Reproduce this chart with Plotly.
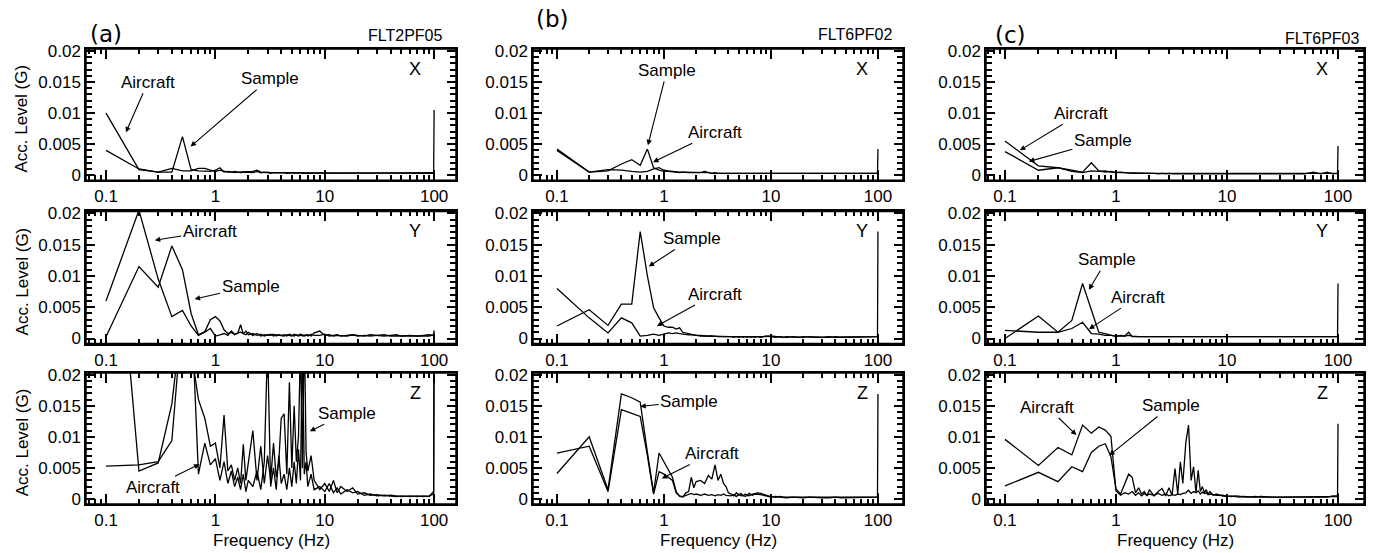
import numpy as np
import plotly.graph_objects as go

# ---------------- data ----------------
freq = [0.1, 0.2, 0.3, 0.4, 0.5, 0.6, 0.7, 0.8, 0.9, 1.0,
        1.1, 1.2, 1.3, 1.4, 1.5, 1.6, 1.7, 1.8, 1.9, 2.0,
        2.2, 2.4, 2.6, 2.8, 3.0, 3.2, 3.4, 3.6, 3.8, 4.0,
        4.25, 4.5, 4.75, 5.0, 5.25, 5.5, 5.75, 6.0, 6.25, 6.5, 6.75, 7.0, 7.5, 8.0,
        9, 10, 11, 12, 13, 14, 16, 18, 20, 23, 26, 30, 35, 40, 45, 50, 60, 70, 80, 90, 99, 100]

# (a) FLT2PF05
aX_aircraft = [0.0100, 0.0009, 0.0005, 0.0011, 0.0007, 0.0007, 0.0011, 0.0011, 0.0008, 0.0006,
               0.0008, 0.0006, 0.0005, 0.0005, 0.0006, 0.0005, 0.0005, 0.0006, 0.0005, 0.0005,
               0.0006, 0.0008, 0.0005, 0.0004, 0.0005, 0.0004, 0.0004, 0.0005, 0.0004, 0.0004,
               0.0004, 0.0003, 0.0004, 0.0004, 0.0003, 0.0004, 0.0003, 0.0004, 0.0003, 0.0003, 0.0004, 0.0003, 0.0003, 0.0004,
               0.0003, 0.0004, 0.0003, 0.0003, 0.0004, 0.0003, 0.0003, 0.0004, 0.0003, 0.0003, 0.0003, 0.0004, 0.0003, 0.0003,
               0.0003, 0.0004, 0.0003, 0.0003, 0.0003, 0.0004, 0.0004, 0.0004]
aX_sample = [0.0040, 0.0010, 0.0005, 0.0005, 0.0062, 0.0009, 0.0007, 0.0007, 0.0006, 0.0008,
             0.0012, 0.0005, 0.0006, 0.0005, 0.0004, 0.0005, 0.0004, 0.0005, 0.0005, 0.0004,
             0.0004, 0.0006, 0.0004, 0.0005, 0.0004, 0.0003, 0.0004, 0.0004, 0.0003, 0.0004,
             0.0003, 0.0004, 0.0003, 0.0003, 0.0004, 0.0003, 0.0003, 0.0003, 0.0004, 0.0003, 0.0003, 0.0003, 0.0004, 0.0003,
             0.0003, 0.0003, 0.0004, 0.0003, 0.0003, 0.0003, 0.0004, 0.0003, 0.0003, 0.0003, 0.0004, 0.0003, 0.0003, 0.0004,
             0.0003, 0.0003, 0.0003, 0.0004, 0.0003, 0.0003, 0.0003, 0.0105]
aY_aircraft = [0.0060, 0.0205, 0.0095, 0.0035, 0.0045, 0.0020, 0.0005, 0.0010, 0.0016, 0.0004,
               0.0006, 0.0008, 0.0005, 0.0012, 0.0007, 0.0008, 0.0022, 0.0007, 0.0012, 0.0006,
               0.0008, 0.0005, 0.0007, 0.0004, 0.0006, 0.0005, 0.0007, 0.0004, 0.0006, 0.0005,
               0.0006, 0.0004, 0.0007, 0.0005, 0.0004, 0.0006, 0.0005, 0.0007, 0.0004, 0.0005, 0.0006, 0.0004, 0.0007, 0.0005,
               0.0005, 0.0007, 0.0004, 0.0005, 0.0006, 0.0004, 0.0005, 0.0006, 0.0005, 0.0004, 0.0006, 0.0005, 0.0004, 0.0005,
               0.0006, 0.0004, 0.0005, 0.0004, 0.0005, 0.0006, 0.0005, 0.0013]
aY_sample = [0.0003, 0.0115, 0.0082, 0.0148, 0.0110, 0.0040, 0.0006, 0.0011, 0.0030, 0.0035,
             0.0028, 0.0014, 0.0008, 0.0010, 0.0006, 0.0009, 0.0010, 0.0008, 0.0006, 0.0010,
             0.0005, 0.0008, 0.0004, 0.0006, 0.0005, 0.0007, 0.0004, 0.0006, 0.0005, 0.0004,
             0.0004, 0.0006, 0.0005, 0.0004, 0.0007, 0.0005, 0.0004, 0.0005, 0.0006, 0.0004, 0.0005, 0.0006, 0.0004, 0.0009,
             0.0012, 0.0005, 0.0006, 0.0004, 0.0005, 0.0005, 0.0004, 0.0006, 0.0004, 0.0005, 0.0004, 0.0005, 0.0006, 0.0004,
             0.0004, 0.0005, 0.0004, 0.0005, 0.0004, 0.0004, 0.0006, 0.0010]
aZ_aircraft = [0.0650, 0.0045, 0.0058, 0.0153, 0.0300, 0.0320, 0.0040, 0.0090, 0.0055, 0.0065,
               0.0030, 0.0060, 0.0025, 0.0045, 0.0020, 0.0035, 0.0015, 0.0040, 0.0012, 0.0030,
               0.0020, 0.0045, 0.0015, 0.0060, 0.0250, 0.0020, 0.0050, 0.0015, 0.0070, 0.0025,
               0.0040, 0.0015, 0.0050, 0.0020, 0.0060, 0.0025, 0.0080, 0.0030, 0.0250, 0.0040, 0.0060, 0.0020, 0.0040, 0.0015,
               0.0020, 0.0012, 0.0025, 0.0010, 0.0018, 0.0008, 0.0015, 0.0010, 0.0012, 0.0006, 0.0008, 0.0005, 0.0006, 0.0005,
               0.0004, 0.0005, 0.0004, 0.0005, 0.0004, 0.0005, 0.0008, 0.0300]
aZ_sample = [0.0053, 0.0055, 0.0060, 0.0094, 0.0300, 0.0240, 0.0160, 0.0130, 0.0085, 0.0090,
             0.0050, 0.0135, 0.0045, 0.0055, 0.0030, 0.0050, 0.0025, 0.0088, 0.0030, 0.0060,
             0.0110, 0.0030, 0.0085, 0.0025, 0.0070, 0.0030, 0.0090, 0.0035, 0.0060, 0.0130,
             0.0137, 0.0040, 0.0188, 0.0050, 0.0150, 0.0060, 0.0100, 0.0250, 0.0050, 0.0280, 0.0075, 0.0045, 0.0070, 0.0030,
             0.0015, 0.0025, 0.0012, 0.0030, 0.0010, 0.0020, 0.0012, 0.0018, 0.0008, 0.0010, 0.0006, 0.0007, 0.0005, 0.0006,
             0.0005, 0.0004, 0.0005, 0.0004, 0.0005, 0.0004, 0.0012, 0.0300]

# (b) FLT6PF02
bX_aircraft = [0.0042, 0.0005, 0.0009, 0.0008, 0.0006, 0.0005, 0.0006, 0.0010, 0.0012, 0.0008,
               0.0007, 0.0006, 0.0006, 0.0005, 0.0005, 0.0005, 0.0004, 0.0005, 0.0004, 0.0004,
               0.0005, 0.0004, 0.0004, 0.0003, 0.0004, 0.0003, 0.0003, 0.0003, 0.0003, 0.0003,
               0.0003, 0.0002, 0.0003, 0.0002, 0.0003, 0.0002, 0.0003, 0.0002, 0.0003, 0.0002, 0.0003, 0.0002, 0.0003, 0.0002,
               0.0002, 0.0003, 0.0002, 0.0002, 0.0003, 0.0002, 0.0002, 0.0003, 0.0002, 0.0002, 0.0002, 0.0003, 0.0002, 0.0002,
               0.0002, 0.0003, 0.0002, 0.0002, 0.0002, 0.0003, 0.0003, 0.0004]
bX_sample = [0.0040, 0.0005, 0.0007, 0.0018, 0.0025, 0.0016, 0.0042, 0.0012, 0.0008, 0.0006,
             0.0006, 0.0005, 0.0005, 0.0004, 0.0005, 0.0004, 0.0004, 0.0004, 0.0004, 0.0004,
             0.0004, 0.0006, 0.0004, 0.0003, 0.0003, 0.0003, 0.0003, 0.0003, 0.0003, 0.0003,
             0.0002, 0.0003, 0.0002, 0.0003, 0.0002, 0.0003, 0.0002, 0.0003, 0.0002, 0.0003, 0.0002, 0.0003, 0.0002, 0.0003,
             0.0003, 0.0002, 0.0002, 0.0003, 0.0002, 0.0002, 0.0003, 0.0002, 0.0002, 0.0002, 0.0003, 0.0002, 0.0002, 0.0002,
             0.0003, 0.0002, 0.0002, 0.0002, 0.0003, 0.0002, 0.0003, 0.0042]
bY_aircraft = [0.0080, 0.0033, 0.0009, 0.0033, 0.0025, 0.0004, 0.0005, 0.0007, 0.0005, 0.0007,
               0.0009, 0.0008, 0.0009, 0.0008, 0.0007, 0.0007, 0.0006, 0.0006, 0.0005, 0.0005,
               0.0004, 0.0004, 0.0004, 0.0003, 0.0003, 0.0003, 0.0003, 0.0003, 0.0003, 0.0003,
               0.0003, 0.0002, 0.0003, 0.0002, 0.0003, 0.0002, 0.0003, 0.0002, 0.0003, 0.0002, 0.0003, 0.0002, 0.0003, 0.0002,
               0.0004, 0.0003, 0.0002, 0.0003, 0.0002, 0.0002, 0.0003, 0.0002, 0.0002, 0.0003, 0.0002, 0.0002, 0.0002, 0.0003,
               0.0002, 0.0002, 0.0003, 0.0002, 0.0002, 0.0002, 0.0003, 0.0004]
bY_sample = [0.0020, 0.0046, 0.0021, 0.0055, 0.0055, 0.0171, 0.0100, 0.0049, 0.0033, 0.0020,
             0.0018, 0.0018, 0.0015, 0.0017, 0.0010, 0.0009, 0.0007, 0.0006, 0.0006, 0.0005,
             0.0005, 0.0004, 0.0004, 0.0004, 0.0003, 0.0003, 0.0003, 0.0003, 0.0003, 0.0003,
             0.0002, 0.0003, 0.0002, 0.0003, 0.0002, 0.0003, 0.0002, 0.0003, 0.0002, 0.0003, 0.0002, 0.0003, 0.0002, 0.0003,
             0.0003, 0.0004, 0.0003, 0.0002, 0.0002, 0.0003, 0.0002, 0.0002, 0.0003, 0.0002, 0.0002, 0.0002, 0.0003, 0.0002,
             0.0002, 0.0003, 0.0002, 0.0002, 0.0002, 0.0003, 0.0003, 0.0171]
bZ_aircraft = [0.0074, 0.0085, 0.0012, 0.0144, 0.0138, 0.0133, 0.0070, 0.0008, 0.0044, 0.0040,
               0.0035, 0.0030, 0.0010, 0.0005, 0.0004, 0.0006, 0.0008, 0.0009, 0.0007, 0.0008,
               0.0006, 0.0008, 0.0006, 0.0007, 0.0005, 0.0007, 0.0006, 0.0008, 0.0006, 0.0005,
               0.0005, 0.0007, 0.0004, 0.0008, 0.0005, 0.0006, 0.0004, 0.0006, 0.0005, 0.0007, 0.0006, 0.0008, 0.0008, 0.0007,
               0.0005, 0.0003, 0.0004, 0.0003, 0.0003, 0.0002, 0.0003, 0.0002, 0.0002, 0.0003, 0.0002, 0.0002, 0.0002, 0.0003,
               0.0002, 0.0002, 0.0003, 0.0002, 0.0002, 0.0003, 0.0003, 0.0010]
bZ_sample = [0.0041, 0.0100, 0.0015, 0.0169, 0.0163, 0.0156, 0.0075, 0.0010, 0.0074, 0.0060,
             0.0045, 0.0035, 0.0012, 0.0004, 0.0003, 0.0010, 0.0012, 0.0035, 0.0018, 0.0028,
             0.0030, 0.0025, 0.0038, 0.0032, 0.0055, 0.0030, 0.0040, 0.0025, 0.0020, 0.0010,
             0.0008, 0.0005, 0.0010, 0.0006, 0.0009, 0.0005, 0.0008, 0.0006, 0.0009, 0.0007, 0.0008, 0.0009, 0.0010, 0.0009,
             0.0006, 0.0004, 0.0003, 0.0004, 0.0003, 0.0003, 0.0003, 0.0003, 0.0003, 0.0002, 0.0003, 0.0002, 0.0003, 0.0002,
             0.0003, 0.0002, 0.0002, 0.0003, 0.0002, 0.0002, 0.0003, 0.0169]

# (c) FLT6PF03
cX_aircraft = [0.0055, 0.0015, 0.0012, 0.0008, 0.0005, 0.0020, 0.0007, 0.0005, 0.0006, 0.0004,
               0.0005, 0.0004, 0.0004, 0.0003, 0.0004, 0.0003, 0.0003, 0.0003, 0.0003, 0.0003,
               0.0003, 0.0002, 0.0003, 0.0002, 0.0003, 0.0002, 0.0002, 0.0002, 0.0002, 0.0002,
               0.0002, 0.0002, 0.0002, 0.0002, 0.0002, 0.0002, 0.0002, 0.0002, 0.0002, 0.0002, 0.0002, 0.0002, 0.0002, 0.0002,
               0.0002, 0.0002, 0.0002, 0.0002, 0.0002, 0.0002, 0.0002, 0.0002, 0.0002, 0.0002, 0.0002, 0.0002, 0.0002, 0.0002,
               0.0002, 0.0002, 0.0005, 0.0002, 0.0005, 0.0002, 0.0003, 0.0004]
cX_sample = [0.0038, 0.0008, 0.0012, 0.0006, 0.0004, 0.0007, 0.0006, 0.0007, 0.0005, 0.0004,
             0.0004, 0.0004, 0.0003, 0.0003, 0.0003, 0.0003, 0.0003, 0.0002, 0.0003, 0.0002,
             0.0002, 0.0002, 0.0002, 0.0002, 0.0002, 0.0002, 0.0002, 0.0002, 0.0002, 0.0002,
             0.0002, 0.0002, 0.0002, 0.0002, 0.0002, 0.0002, 0.0002, 0.0002, 0.0002, 0.0002, 0.0002, 0.0002, 0.0002, 0.0002,
             0.0002, 0.0002, 0.0002, 0.0002, 0.0002, 0.0002, 0.0002, 0.0002, 0.0002, 0.0002, 0.0002, 0.0002, 0.0002, 0.0002,
             0.0002, 0.0002, 0.0002, 0.0002, 0.0002, 0.0002, 0.0003, 0.0047]
cY_aircraft = [0.0013, 0.0010, 0.0010, 0.0016, 0.0026, 0.0008, 0.0007, 0.0005, 0.0005, 0.0004,
               0.0004, 0.0004, 0.0005, 0.0004, 0.0003, 0.0003, 0.0003, 0.0003, 0.0002, 0.0002,
               0.0003, 0.0002, 0.0002, 0.0002, 0.0002, 0.0002, 0.0002, 0.0002, 0.0002, 0.0002,
               0.0002, 0.0002, 0.0002, 0.0002, 0.0002, 0.0002, 0.0002, 0.0002, 0.0002, 0.0002, 0.0002, 0.0002, 0.0002, 0.0002,
               0.0002, 0.0002, 0.0002, 0.0002, 0.0002, 0.0002, 0.0002, 0.0002, 0.0002, 0.0002, 0.0002, 0.0002, 0.0002, 0.0002,
               0.0002, 0.0002, 0.0002, 0.0002, 0.0002, 0.0002, 0.0003, 0.0004]
cY_sample = [0.0000, 0.0036, 0.0010, 0.0029, 0.0088, 0.0044, 0.0010, 0.0008, 0.0006, 0.0003,
             0.0005, 0.0004, 0.0010, 0.0003, 0.0003, 0.0003, 0.0002, 0.0003, 0.0002, 0.0002,
             0.0002, 0.0002, 0.0003, 0.0002, 0.0002, 0.0002, 0.0002, 0.0002, 0.0002, 0.0002,
             0.0002, 0.0002, 0.0002, 0.0002, 0.0002, 0.0002, 0.0002, 0.0002, 0.0002, 0.0002, 0.0002, 0.0002, 0.0002, 0.0002,
             0.0002, 0.0002, 0.0002, 0.0002, 0.0002, 0.0002, 0.0002, 0.0002, 0.0002, 0.0002, 0.0002, 0.0002, 0.0002, 0.0002,
             0.0002, 0.0002, 0.0002, 0.0002, 0.0002, 0.0002, 0.0003, 0.0088]
cZ_aircraft = [0.0096, 0.0054, 0.0083, 0.0071, 0.0119, 0.0106, 0.0116, 0.0111, 0.0101, 0.0013,
               0.0006, 0.0010, 0.0008, 0.0012, 0.0006, 0.0010, 0.0005, 0.0009, 0.0006, 0.0008,
               0.0006, 0.0009, 0.0006, 0.0008, 0.0005, 0.0007, 0.0006, 0.0008, 0.0007, 0.0009,
               0.0010, 0.0014, 0.0009, 0.0012, 0.0010, 0.0013, 0.0008, 0.0011, 0.0009, 0.0010, 0.0007, 0.0008, 0.0007, 0.0006,
               0.0006, 0.0005, 0.0004, 0.0005, 0.0004, 0.0004, 0.0003, 0.0004, 0.0003, 0.0003, 0.0003, 0.0003, 0.0003, 0.0003,
               0.0003, 0.0003, 0.0003, 0.0003, 0.0003, 0.0005, 0.0005, 0.0010]
cZ_sample = [0.0021, 0.0043, 0.0028, 0.0052, 0.0044, 0.0075, 0.0085, 0.0089, 0.0068, 0.0016,
             0.0008, 0.0025, 0.0040, 0.0035, 0.0010, 0.0018, 0.0008, 0.0012, 0.0005, 0.0015,
             0.0005, 0.0012, 0.0017, 0.0005, 0.0018, 0.0006, 0.0049, 0.0008, 0.0060, 0.0025,
             0.0090, 0.0119, 0.0030, 0.0052, 0.0010, 0.0046, 0.0012, 0.0020, 0.0010, 0.0015, 0.0008, 0.0012, 0.0006, 0.0008,
             0.0005, 0.0004, 0.0005, 0.0004, 0.0003, 0.0004, 0.0003, 0.0003, 0.0004, 0.0003, 0.0003, 0.0003, 0.0003, 0.0004,
             0.0003, 0.0003, 0.0003, 0.0003, 0.0003, 0.0004, 0.0004, 0.0121]

panels = [
    (aX_aircraft, aX_sample), (bX_aircraft, bX_sample), (cX_aircraft, cX_sample),
    (aY_aircraft, aY_sample), (bY_aircraft, bY_sample), (cY_aircraft, cY_sample),
    (aZ_aircraft, aZ_sample), (bZ_aircraft, bZ_sample), (cZ_aircraft, cZ_sample),
]
axis_names = ["X", "Y", "Z"]
column_letters = ["(a)", "(b)", "(c)"]
flight_ids = ["FLT2PF05", "FLT6PF02", "FLT6PF03"]

# callouts: (panel index, text, arrow-head freq, arrow-head level, text dx px, text dy px)
callouts = [
    (0, "Aircraft", 0.152, 0.0069, 22, -50), (0, "Sample", 0.593, 0.0046, 79, -68),
    (1, "Sample", 0.708, 0.0048, 19, -75), (1, "Aircraft", 0.79, 0.0021, 62, -30),
    (2, "Aircraft", 0.136, 0.0040, 61, -37), (2, "Sample", 0.164, 0.0022, 74, -21),
    (3, "Aircraft", 0.279, 0.0157, 55, -9), (3, "Sample", 0.645, 0.0063, 56, -13),
    (4, "Sample", 0.72, 0.0115, 43, -28), (4, "Aircraft", 0.86, 0.0020, 58, -32),
    (5, "Sample", 0.57, 0.0078, 18, -30), (5, "Aircraft", 0.57, 0.0015, 49, -32),
    (6, "Sample", 7.3, 0.0109, 37, -18), (6, "Aircraft", 0.716, 0.0056, -47, 23),
    (7, "Sample", 0.60, 0.0149, 49, -5), (7, "Aircraft", 0.955, 0.0033, 50, -25),
    (8, "Aircraft", 0.44, 0.0103, -29, -28), (8, "Sample", 0.867, 0.0070, 62, -50),
]

# ---------------- layout geometry ----------------
W, H = 1376, 553
col_px = [(86, 456), (533, 903), (986, 1364)]
row_px = [(43, 177), (209, 344), (374, 508)]
xranges = [(-1.183, 2.20), (-1.224, 2.234), (-1.171, 2.234)]
yrange = (-0.0008, 0.0203)
FONT = "Liberation Sans, Arial, sans-serif"

fig = go.Figure()
annotations = []
shapes = []

for k, (air, smp) in enumerate(panels):
    r, c = divmod(k, 3)
    idx = "" if k == 0 else str(k + 1)
    for series in (air, smp):
        fig.add_trace(go.Scatter(x=freq, y=series, mode="lines",
                                 line=dict(color="black", width=1.3),
                                 xaxis="x" + idx, yaxis="y" + idx,
                                 showlegend=False, hoverinfo="skip"))
    x0, x1 = col_px[c]
    y0, y1 = row_px[r]
    fig.layout["xaxis" + idx] = dict(
        type="log", range=list(xranges[c]), domain=[x0 / W, x1 / W],
        anchor="y" + idx, tickmode="array", tickvals=[0.1, 1, 10, 100],
        ticktext=["0.1", "1", "10", "100"], ticks="inside", ticklen=10,
        tickwidth=2, tickcolor="black", showline=True, linecolor="black",
        linewidth=1.5, mirror="allticks", showgrid=False, zeroline=False,
        layer="above traces",
        tickfont=dict(family=FONT, size=17, color="black"),
        minor=dict(dtick="D1", ticks="inside", ticklen=5,
                   tickwidth=1.5, tickcolor="black", showgrid=False),
    )
    fig.layout["yaxis" + idx] = dict(
        range=list(yrange), domain=[1 - y1 / H, 1 - y0 / H], anchor="x" + idx,
        tickmode="array", tickvals=[0, 0.005, 0.01, 0.015, 0.02],
        ticktext=["0", "0.005", "0.01", "0.015", "0.02"], ticks="inside",
        ticklen=9, tickwidth=2, tickcolor="black", showline=True,
        linecolor="black", linewidth=1.5, mirror="allticks", showgrid=False,
        zeroline=False, layer="above traces",
        tickfont=dict(family=FONT, size=17, color="black"),
        minor=dict(dtick=0.001, tick0=0, ticks="inside", ticklen=6,
                   tickwidth=1.5, tickcolor="black", showgrid=False),
    )
    shapes.append(dict(type="rect", xref="x" + idx + " domain", yref="y" + idx + " domain",
                       x0=0, x1=1, y0=0, y1=1, line=dict(color="black", width=1.5),
                       fillcolor="rgba(0,0,0,0)", layer="above"))
    # component label X / Y / Z
    annotations.append(dict(text=axis_names[r], xref="x" + idx + " domain",
                            yref="y" + idx + " domain", x=0.89, y=0.85,
                            xanchor="center", yanchor="middle",
                            showarrow=False, font=dict(family=FONT, size=18, color="black")))

for (k, text, fx, lv, dx, dy) in callouts:
    idx = "" if k == 0 else str(k + 1)
    annotations.append(dict(text=text, xref="x" + idx, yref="y" + idx,
                            x=float(np.log10(fx)), y=lv, ax=dx, ay=dy,
                            showarrow=True, arrowhead=2, arrowsize=1, arrowwidth=1.1,
                            arrowcolor="black", standoff=0,
                            font=dict(family=FONT, size=17, color="black")))

# column headings
col_label_pos = [(106, 28), (552, 12), (1010, 29)]
flt_pos = [(445, 29), (895, 28), (1362, 32)]
for c in range(3):
    lx, ly = col_label_pos[c]
    annotations.append(dict(text=column_letters[c], xref="paper", yref="paper",
                            x=lx / W, y=1 - ly / H, xanchor="center", yanchor="middle",
                            showarrow=False,
                            font=dict(family="DejaVu Sans", size=23, color="black")))
    fx_, fy_ = flt_pos[c]
    annotations.append(dict(text=flight_ids[c], xref="paper", yref="paper",
                            x=fx_ / W, y=1 - fy_ / H, xanchor="right", yanchor="middle",
                            showarrow=False, font=dict(family=FONT, size=16, color="black")))
    x0, x1 = col_px[c]
    annotations.append(dict(text="Frequency (Hz)", xref="paper", yref="paper",
                            x=(x0 + x1) / 2 / W, y=1 - 545 / H,
                            xanchor="center", yanchor="middle", showarrow=False,
                            font=dict(family=FONT, size=17, color="black")))

for r in range(3):
    y0, y1 = row_px[r]
    annotations.append(dict(text="Acc. Level (G)", xref="paper", yref="paper",
                            x=22 / W, y=1 - (y0 + y1 + 8) / 2 / H, textangle=-90,
                            xanchor="center", yanchor="middle",
                            showarrow=False, font=dict(family=FONT, size=17, color="black")))

fig.update_layout(width=W, height=H, margin=dict(l=0, r=0, t=0, b=0),
                  paper_bgcolor="white", plot_bgcolor="white",
                  annotations=annotations, shapes=shapes, showlegend=False)

fig.write_html("out.html", config={"displayModeBar": False},
               post_script="document.body.style.margin='0px';document.body.style.overflow='hidden';")
